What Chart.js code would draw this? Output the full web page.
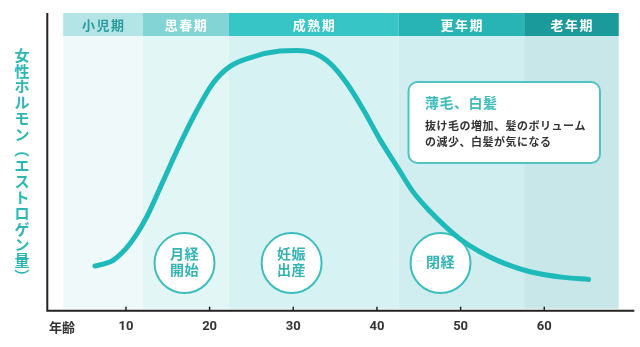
<!DOCTYPE html>
<html>
<head>
<meta charset="utf-8">
<script src="https://cdn.jsdelivr.net/npm/chart.js@4"></script>
<style>
  html, body { margin: 0; padding: 0; background: #fff; }
  #wrap { width: 640px; height: 347px; }
</style>
</head>
<body>
<div id="wrap"><canvas id="hormone"></canvas></div>
<script>
// data
const ages = [6.3, 7.5, 8.5, 10.5, 12.5, 14.5, 16.5, 18.5, 20.4, 22.4, 25.2, 28.4, 30.4, 32.4, 34.4, 36.4, 38.4, 40.4, 42.4, 44.3, 46.3, 48.3, 50.3, 52.3, 54.3, 56.3, 58.3, 62.3, 65.3];
const level = [15.0, 15.8, 17.0, 22.6, 31.6, 43.9, 56.2, 67.4, 76.4, 82.0, 85.3, 87.2, 87.4, 86.6, 83.1, 76.4, 67.4, 57.3, 48.4, 40.0, 33.5, 28.0, 23.3, 19.8, 17.0, 14.8, 13.1, 11.2, 10.5];

const stages = ["小児期", "思春期", "成熟期", "更年期", "老年期"];
const stageEdges = [2.5, 12, 22.3, 42.6, 57.6, 68.9];
const xTicks = [10, 20, 30, 40, 50, 60];
const xTitle = "年齢";
const yTitle = "女性ホルモン（エストロゲン量）";

const events = [
  { age: 17, lines: ["月経", "開始"] },
  { age: 29.8, lines: ["妊娠", "出産"] },
  { age: 47.6, lines: ["閉経"] },
];
const noteTitle = "薄毛、白髪";
const noteLines = ["抜け毛の増加、髪のボリューム", "の減少、白髪が気になる"];

// colours
const headColors = ["#b4e5e6", "#82d4d5", "#38c5c6", "#28b4b5", "#1a9a9b"];
const headText = ["#2a9a9b", "#fff", "#fff", "#fff", "#fff"];
const bodyColors = ["#eff9fa", "#e2f6f6", "#d6f2f3", "#d0eeef", "#c7e7e8"];
const teal = "#1eb9b9";
const JP = '"Noto Sans CJK JP", "Noto Sans", sans-serif';

const backdrop = {
  id: "backdrop",
  beforeDatasetsDraw(chart) {
    const { ctx, chartArea: a, scales: { x, y } } = chart;
    ctx.save();
    for (let i = 0; i < stages.length; i++) {
      const l = x.getPixelForValue(stageEdges[i]);
      const r = x.getPixelForValue(stageEdges[i + 1]);
      ctx.fillStyle = bodyColors[i];
      ctx.fillRect(l, a.top + 23, r - l, a.bottom - a.top - 25);
      ctx.fillStyle = headColors[i];
      ctx.fillRect(l, a.top, r - l, 23);
      ctx.fillStyle = headText[i];
      ctx.font = "bold 13px " + JP;
      ctx.letterSpacing = "1.5px";
      ctx.textAlign = "center";
      ctx.textBaseline = "middle";
      ctx.fillText(stages[i], (l + r) / 2 + 0.75, a.top + 12);
    }

    // event circles (under the curve)
    events.forEach(ev => {
      const cx = x.getPixelForValue(ev.age);
      const cy = y.getPixelForValue(16.0);
      ctx.beginPath();
      ctx.arc(cx, cy, 30, 0, Math.PI * 2);
      ctx.fillStyle = "#fff";
      ctx.fill();
      ctx.lineWidth = 2;
      ctx.strokeStyle = "#3dbdbd";
      ctx.stroke();
      ctx.fillStyle = "#33b4b4";
      ctx.font = "bold 14px " + JP;
      ctx.letterSpacing = "0.5px";
      ctx.textAlign = "center";
      ctx.textBaseline = "middle";
      if (ev.lines.length === 2) {
        ctx.fillText(ev.lines[0], cx, cy - 9);
        ctx.fillText(ev.lines[1], cx, cy + 7);
      } else {
        ctx.fillText(ev.lines[0], cx, cy - 1);
      }
    });
    ctx.restore();
  },
  afterDatasetsDraw(chart) {
    const { ctx, chartArea: a, scales: { x } } = chart;
    ctx.save();

    // note box
    const bx = 408.5, by = 82, bw = 191.5, bh = 81;
    ctx.beginPath();
    ctx.roundRect(bx, by, bw, bh, 9);
    ctx.fillStyle = "#fff";
    ctx.fill();
    ctx.lineWidth = 2;
    ctx.strokeStyle = "#52c2c2";
    ctx.stroke();
    ctx.textAlign = "left";
    ctx.textBaseline = "middle";
    ctx.fillStyle = "#3dbcbc";
    ctx.font = "bold 14px " + JP;
    ctx.letterSpacing = "0.5px";
    ctx.fillText(noteTitle, 425, 103);
    ctx.fillStyle = "#333";
    ctx.font = "bold 11px " + JP;
    ctx.letterSpacing = "0.5px";
    ctx.fillText(noteLines[0], 425, 126);
    ctx.fillText(noteLines[1], 425, 142);

    // axes
    ctx.letterSpacing = "0px";
    ctx.strokeStyle = "#222";
    ctx.lineWidth = 2;
    ctx.beginPath();
    ctx.moveTo(a.left, a.top);
    ctx.lineTo(a.left, a.bottom);
    ctx.lineTo(a.right, a.bottom);
    ctx.stroke();
    ctx.lineWidth = 1.5;
    ctx.fillStyle = "#333";
    ctx.font = "bold 13px Roboto, sans-serif";
    ctx.textAlign = "center";
    ctx.textBaseline = "middle";
    xTicks.forEach(t => {
      const px = x.getPixelForValue(t);
      ctx.beginPath();
      ctx.moveTo(px, a.bottom - 4);
      ctx.lineTo(px, a.bottom);
      ctx.stroke();
      ctx.fillText(String(t), px, a.bottom + 16);
    });
    ctx.font = "bold 13px " + JP;
    ctx.fillText(xTitle, 62, a.bottom + 16);

    // vertical y title, brackets turned sideways
    ctx.fillStyle = "#2db6b6";
    ctx.font = "bold 15px " + JP;
    [...yTitle].forEach((ch, i) => {
      const cy = 55 + i * 15.8;
      if (ch === "（" || ch === "）") {
        ctx.save();
        ctx.translate(22, cy);
        ctx.rotate(Math.PI / 2);
        ctx.fillText(ch, 0, 0);
        ctx.restore();
      } else {
        ctx.fillText(ch, 22, cy);
      }
    });
    ctx.restore();
  }
};

new Chart(document.getElementById("hormone"), {
  type: "line",
  data: {
    datasets: [
      {
        data: ages.map((a, i) => ({ x: a, y: level[i] })),
        borderColor: teal,
        borderWidth: 5,
        borderCapStyle: "round",
        pointRadius: 0,
        cubicInterpolationMode: "monotone",
        fill: false,
      },
    ],
  },
  options: {
    responsive: true,
    maintainAspectRatio: false,
    animation: false,
    layout: { padding: { left: 47.3, right: 5.7, top: 13, bottom: 36.3 } },
    plugins: { legend: { display: false }, tooltip: { enabled: false } },
    scales: {
      x: { type: "linear", min: 0.6, max: 70.76, display: false },
      y: { min: 0, max: 100, display: false },
    },
  },
  plugins: [backdrop],
});
</script>
</body>
</html>
